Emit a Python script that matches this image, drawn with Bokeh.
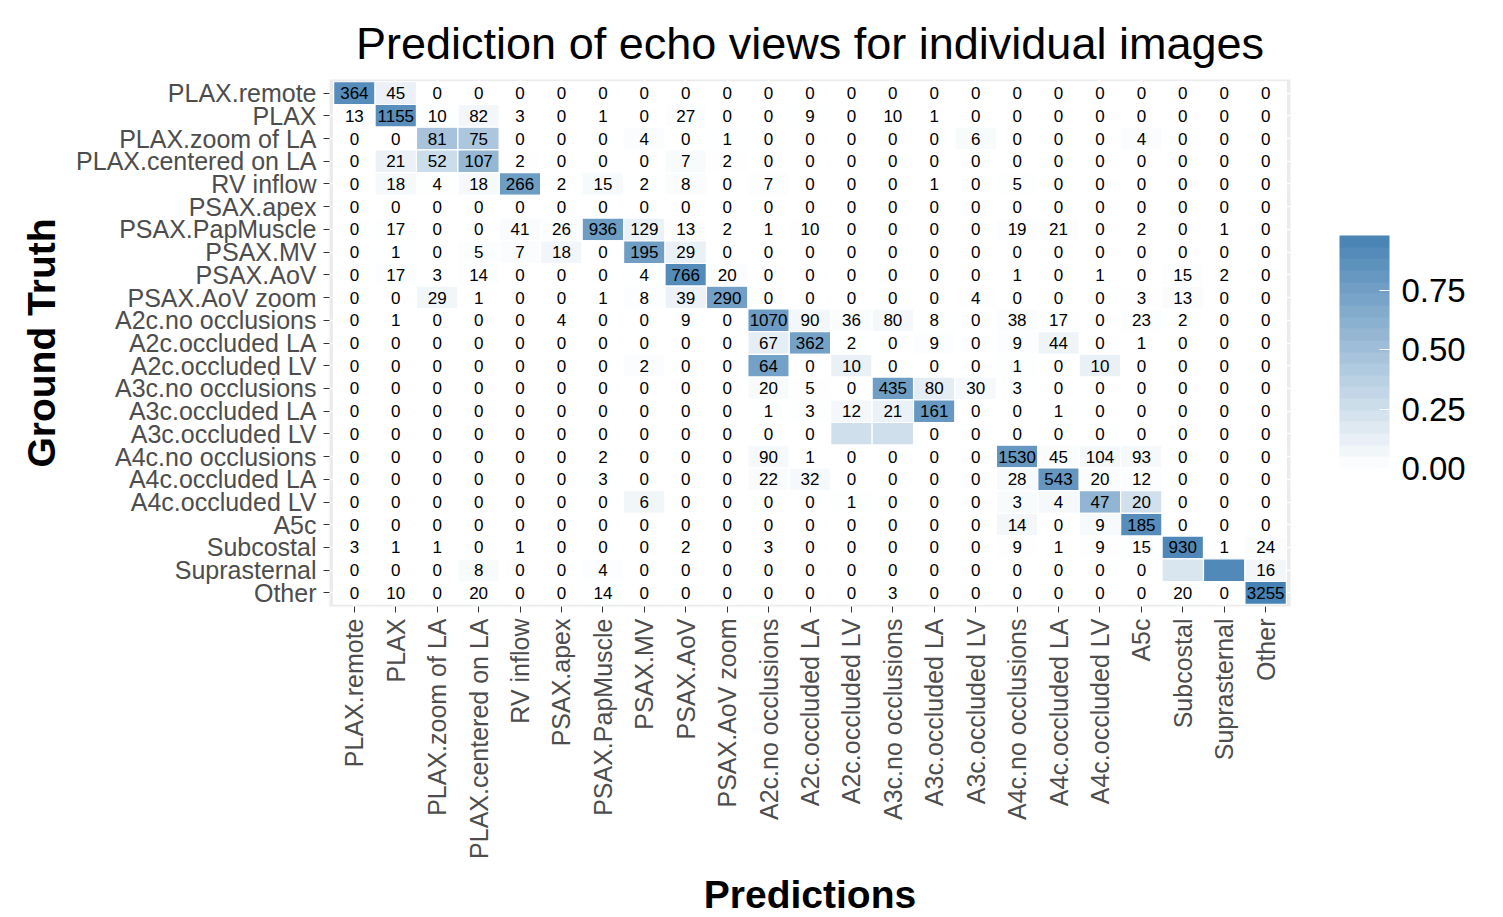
import math
import numpy as np
from bokeh.plotting import figure
from bokeh.models import (ColumnDataSource, LinearColorMapper, ColorBar, FactorRange,
                          FixedTicker, PrintfTickFormatter)
from bokeh.core.properties import value
from bokeh.embed import file_html
from bokeh.resources import INLINE

views = ["PLAX.remote", "PLAX", "PLAX.zoom of LA", "PLAX.centered on LA", "RV inflow",
         "PSAX.apex", "PSAX.PapMuscle", "PSAX.MV", "PSAX.AoV", "PSAX.AoV zoom",
         "A2c.no occlusions", "A2c.occluded LA", "A2c.occluded LV", "A3c.no occlusions",
         "A3c.occluded LA", "A3c.occluded LV", "A4c.no occlusions", "A4c.occluded LA",
         "A4c.occluded LV", "A5c", "Subcostal", "Suprasternal", "Other"]

# rows = ground truth, columns = predictions (None = tile drawn without a count label)
counts = [
    [364, 45, 0, 0, 0, 0, 0, 0, 0, 0, 0, 0, 0, 0, 0, 0, 0, 0, 0, 0, 0, 0, 0],
    [13, 1155, 10, 82, 3, 0, 1, 0, 27, 0, 0, 9, 0, 10, 1, 0, 0, 0, 0, 0, 0, 0, 0],
    [0, 0, 81, 75, 0, 0, 0, 4, 0, 1, 0, 0, 0, 0, 0, 6, 0, 0, 0, 4, 0, 0, 0],
    [0, 21, 52, 107, 2, 0, 0, 0, 7, 2, 0, 0, 0, 0, 0, 0, 0, 0, 0, 0, 0, 0, 0],
    [0, 18, 4, 18, 266, 2, 15, 2, 8, 0, 7, 0, 0, 0, 1, 0, 5, 0, 0, 0, 0, 0, 0],
    [0, 0, 0, 0, 0, 0, 0, 0, 0, 0, 0, 0, 0, 0, 0, 0, 0, 0, 0, 0, 0, 0, 0],
    [0, 17, 0, 0, 41, 26, 936, 129, 13, 2, 1, 10, 0, 0, 0, 0, 19, 21, 0, 2, 0, 1, 0],
    [0, 1, 0, 5, 7, 18, 0, 195, 29, 0, 0, 0, 0, 0, 0, 0, 0, 0, 0, 0, 0, 0, 0],
    [0, 17, 3, 14, 0, 0, 0, 4, 766, 20, 0, 0, 0, 0, 0, 0, 1, 0, 1, 0, 15, 2, 0],
    [0, 0, 29, 1, 0, 0, 1, 8, 39, 290, 0, 0, 0, 0, 0, 4, 0, 0, 0, 3, 13, 0, 0],
    [0, 1, 0, 0, 0, 4, 0, 0, 9, 0, 1070, 90, 36, 80, 8, 0, 38, 17, 0, 23, 2, 0, 0],
    [0, 0, 0, 0, 0, 0, 0, 0, 0, 0, 67, 362, 2, 0, 9, 0, 9, 44, 0, 1, 0, 0, 0],
    [0, 0, 0, 0, 0, 0, 0, 2, 0, 0, 64, 0, 10, 0, 0, 0, 1, 0, 10, 0, 0, 0, 0],
    [0, 0, 0, 0, 0, 0, 0, 0, 0, 0, 20, 5, 0, 435, 80, 30, 3, 0, 0, 0, 0, 0, 0],
    [0, 0, 0, 0, 0, 0, 0, 0, 0, 0, 1, 3, 12, 21, 161, 0, 0, 1, 0, 0, 0, 0, 0],
    [0, 0, 0, 0, 0, 0, 0, 0, 0, 0, 0, 0, None, None, 0, 0, 0, 0, 0, 0, 0, 0, 0],
    [0, 0, 0, 0, 0, 0, 2, 0, 0, 0, 90, 1, 0, 0, 0, 0, 1530, 45, 104, 93, 0, 0, 0],
    [0, 0, 0, 0, 0, 0, 3, 0, 0, 0, 22, 32, 0, 0, 0, 0, 28, 543, 20, 12, 0, 0, 0],
    [0, 0, 0, 0, 0, 0, 0, 6, 0, 0, 0, 0, 1, 0, 0, 0, 3, 4, 47, 20, 0, 0, 0],
    [0, 0, 0, 0, 0, 0, 0, 0, 0, 0, 0, 0, 0, 0, 0, 0, 14, 0, 9, 185, 0, 0, 0],
    [3, 1, 1, 0, 1, 0, 0, 0, 2, 0, 3, 0, 0, 0, 0, 0, 9, 1, 9, 15, 930, 1, 24],
    [0, 0, 0, 8, 0, 0, 4, 0, 0, 0, 0, 0, 0, 0, 0, 0, 0, 0, 0, 0, None, None, 16],
    [0, 10, 0, 20, 0, 0, 14, 0, 0, 0, 0, 0, 0, 3, 0, 0, 0, 0, 0, 0, 20, 0, 3255],
]

# estimated row shares of the tiles that carry no count label
hidden_share = {
    ("A3c.occluded LV", "A2c.occluded LV"): 0.25,
    ("A3c.occluded LV", "A3c.no occlusions"): 0.25,
    ("Suprasternal", "Subcostal"): 0.2,
    ("Suprasternal", "Suprasternal"): 0.92,
}
# estimated row total for the row whose unlabeled tiles hide counts
row_total_estimate = {"Suprasternal": 230}

truth_col, pred_col, share_col, label_col = [], [], [], []
for i, truth in enumerate(views):
    row = counts[i]
    total = row_total_estimate.get(truth, sum(v for v in row if v is not None))
    for j, pred in enumerate(views):
        v = row[j]
        if v is None:
            share = hidden_share[(truth, pred)]
            lab = ""
        else:
            share = v / total if total else 0.0
            lab = str(v)
        truth_col.append(truth)
        pred_col.append(pred)
        share_col.append(share)
        label_col.append(lab)

src = ColumnDataSource(dict(truth=truth_col, pred=pred_col, share=share_col, label=label_col))
max_share = max(share_col)


def blend(t):
    lo = np.array([255, 255, 255])
    hi = np.array([70, 130, 180])
    c = lo + (hi - lo) * t
    return "#%02x%02x%02x" % tuple(int(round(x)) for x in c)


tile_palette = [blend(k / 255) for k in range(256)]
bar_palette = [blend((k + 0.5) / 20) for k in range(20)]

tile_mapper = LinearColorMapper(palette=tile_palette, low=0, high=max_share)
bar_mapper = LinearColorMapper(palette=bar_palette, low=0, high=max_share)

FONT = "Liberation Sans"

p = figure(frame_width=961, frame_height=527,
           x_range=FactorRange(factors=views, range_padding=0.1, range_padding_units="absolute"),
           y_range=FactorRange(factors=views[::-1], range_padding=0.1, range_padding_units="absolute"),
           output_backend="svg", toolbar_location=None,
           min_border_left=329, min_border_right=208, min_border_top=79, min_border_bottom=305,
           title="Prediction of echo views for individual images")

p.background_fill_color = "#ebebeb"
p.border_fill_color = "white"
p.outline_line_color = None

p.rect(x="pred", y="truth", width=1, height=1, source=src,
       fill_color={"field": "share", "transform": tile_mapper},
       line_color="white", line_width=1.2)
p.text(x="pred", y="truth", text="label", source=src,
       text_align="center", text_baseline="middle",
       text_font=value(FONT), text_font_size="17px", text_color="black")

p.grid.grid_line_color = "white"
p.grid.grid_line_width = 1.5

p.axis.axis_line_color = None
p.axis.major_tick_line_color = "#333333"
p.axis.major_tick_out = 6
p.axis.major_tick_in = 0
p.axis.major_label_text_font = FONT
p.axis.major_label_text_font_size = "25px"
p.axis.major_label_text_color = "#4d4d4d"
p.axis.axis_label_text_font = FONT
p.axis.axis_label_text_font_size = "39px"
p.axis.axis_label_text_font_style = "bold"
p.axis.axis_label_text_color = "black"
p.xaxis.major_label_orientation = math.pi / 2
p.xaxis.major_label_standoff = 6
p.yaxis.major_label_standoff = 7
p.xaxis.axis_label = "Predictions"
p.yaxis.axis_label = "Ground Truth"
p.xaxis.axis_label_standoff = 11
p.yaxis.axis_label_standoff = 10

p.title.text_font = FONT
p.title.text_font_size = "45px"
p.title.text_font_style = "normal"
p.title.text_color = "black"
p.title.align = "center"
p.title.standoff = 22

cb = ColorBar(color_mapper=bar_mapper, ticker=FixedTicker(ticks=[0, 0.25, 0.5, 0.75]),
              formatter=PrintfTickFormatter(format="%.2f"),
              width=50, height=233, padding=0, label_standoff=12,
              major_label_text_font=FONT, major_label_text_font_size="33px",
              major_label_text_color="black",
              major_tick_line_color="white", major_tick_in=10, major_tick_out=0,
              bar_line_color=None, border_line_color=None, background_fill_alpha=0,
              location=(1010, 138))
p.add_layout(cb, "center")

open("out.html", "w").write(file_html(p, INLINE))
